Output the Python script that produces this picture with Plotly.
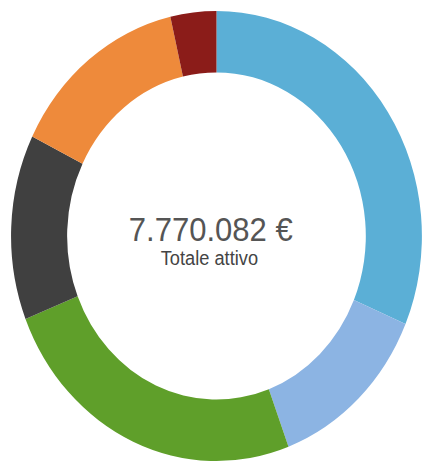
import plotly.graph_objects as go

categories = ["Liquidità", "Obbligazioni", "Azioni", "Fondi", "Immobili", "Altro"]
values = [2440000, 1002000, 1919000, 1033000, 1096000, 280000]
colors = ["#5bafd6", "#8cb4e3", "#5f9f2a", "#404040", "#ee8a3b", "#8b1c19"]
total_label = "7.770.082 €"
subtitle = "Totale attivo"

W, H = 475, 463
SX = 0.913

fig = go.Figure(go.Pie(
    labels=categories,
    values=values,
    marker=dict(colors=colors, line=dict(width=0)),
    hole=0.727,
    sort=False,
    direction="clockwise",
    rotation=0,
    textinfo="none",
    hoverinfo="label+value+percent",
    domain=dict(x=[12.1 / W, 462.1 / W], y=[2 / H, 452 / H]),
    showlegend=False,
))

fig.add_annotation(text=total_label, x=0.487, y=1 - 229 / H, xref="paper", yref="paper",
                   showarrow=False, xanchor="center", yanchor="middle",
                   font=dict(family="Liberation Sans, Arial, sans-serif", size=34, color="#555555"))
fig.add_annotation(text=subtitle, x=0.484, y=1 - 258 / H, xref="paper", yref="paper",
                   showarrow=False, xanchor="center", yanchor="middle",
                   font=dict(family="Liberation Sans, Arial, sans-serif", size=20, color="#444444"))

fig.update_layout(width=W, height=H, margin=dict(l=0, r=0, t=0, b=0),
                  paper_bgcolor="white", plot_bgcolor="white")

post = ("document.body.style.margin='0';document.body.style.overflow='hidden';"
        "var gd=document.getElementById('{plot_id}');"
        "gd.style.transformOrigin='0 0';gd.style.transform='scaleX(%s)';" % SX)
fig.write_html("out.html", post_script=post, config={"displayModeBar": False})
